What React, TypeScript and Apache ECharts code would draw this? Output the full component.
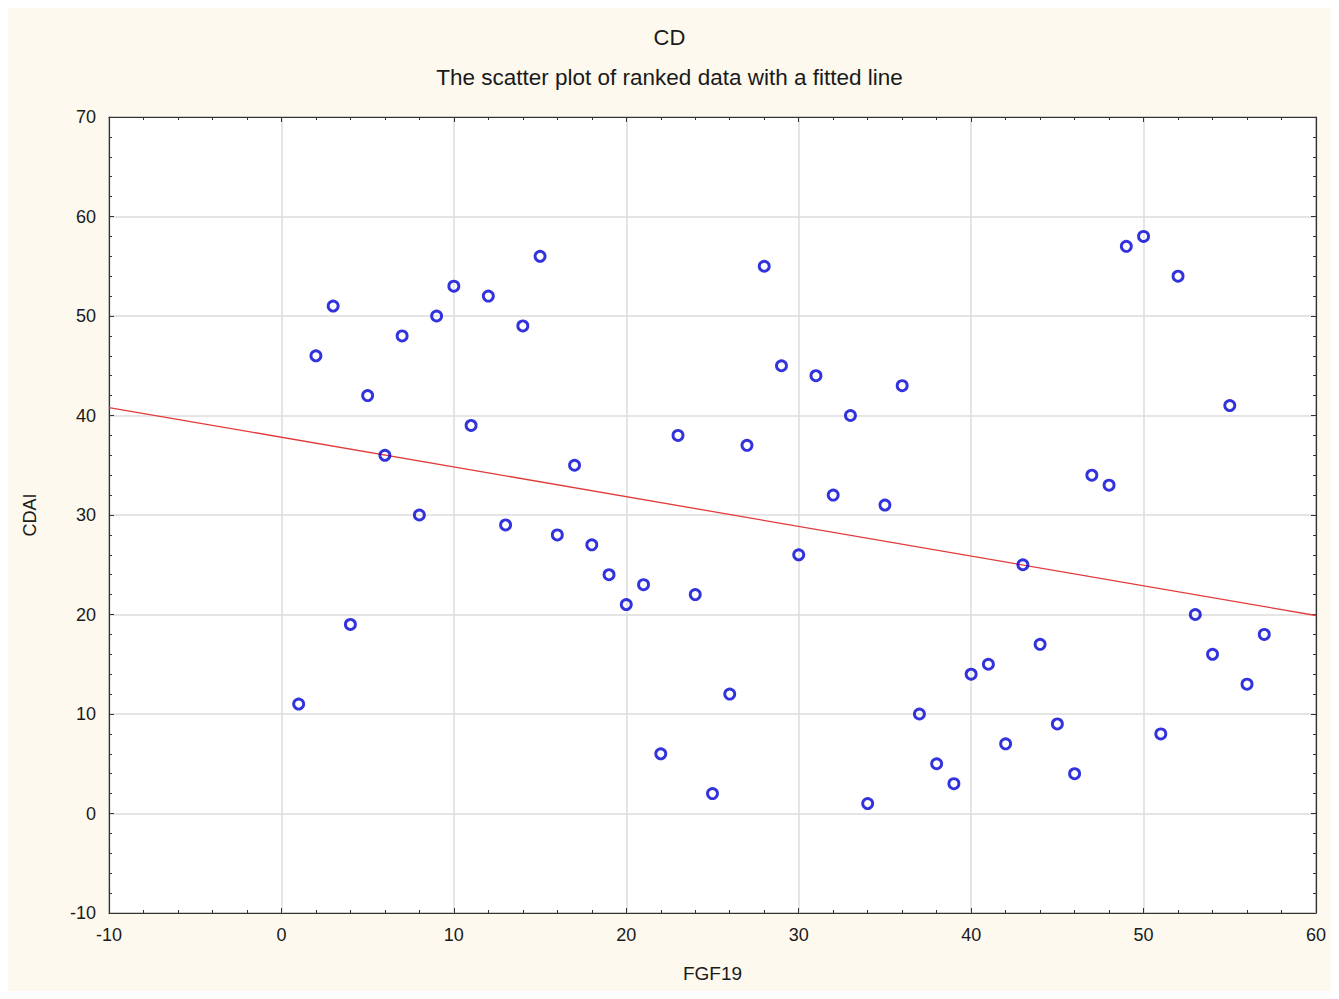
import React, { useEffect, useRef } from "react";
import * as echarts from "echarts";

const xRanks = [1,2,3,4,5,6,7,8,9,10,11,12,13,14,15,16,17,18,19,20,21,22,23,24,25,26,27,28,29,30,31,32,33,34,35,36,37,38,39,40,41,42,43,44,45,46,47,48,49,50,51,52,53,54,55,56,57];
const yRanks = [11,46,51,19,42,36,48,30,50,53,39,52,29,49,56,28,35,27,24,21,23,6,38,22,2,12,37,55,45,26,44,32,40,1,31,43,10,5,3,14,15,7,25,17,9,4,34,33,57,58,8,54,20,16,41,13,18];
const fitLineX = [-10, 60];
const fitLineY = [40.8, 19.9];
const titleText = "CD";
const subtitleText = "The scatter plot of ranked data with a fitted line";
const xName = "FGF19";
const yName = "CDAI";

export default function App() {
  const ref = useRef<HTMLDivElement>(null);
  useEffect(() => {
    if (!ref.current) return;
    const chart = echarts.init(ref.current, null, { renderer: "svg" });
    const font = "Liberation Sans, Arial, sans-serif";
    const tickStyle = { show: true, inside: true, length: 5, lineStyle: { color: "#333", width: 1 } };
    const minorStyle = { show: true, splitNumber: 5, length: 3, lineStyle: { color: "#333", width: 1 } };
    const axisLine = { show: true, onZero: false, lineStyle: { color: "#333", width: 1.2 } };
    chart.setOption({
      animation: false,
      backgroundColor: "#fdf9ee",
      title: [
        { text: titleText, left: "center", top: 13, textStyle: { fontFamily: font, fontSize: 22, fontWeight: "normal", color: "#1a1a1a" } },
        { text: subtitleText, left: "center", top: 53, textStyle: { fontFamily: font, fontSize: 22.5, fontWeight: "normal", color: "#1a1a1a" } },
      ],
      grid: { left: 101, top: 109, right: 15, bottom: 78, show: true, backgroundColor: "#ffffff", borderColor: "#333", borderWidth: 1 },
      xAxis: [
        {
          type: "value", min: -10, max: 60, interval: 10, position: "bottom",
          name: xName, nameLocation: "middle", nameGap: 51,
          nameTextStyle: { fontFamily: font, fontSize: 19, color: "#1a1a1a" },
          axisLine, axisTick: tickStyle, minorTick: minorStyle,
          axisLabel: { fontFamily: font, fontSize: 18, color: "#1a1a1a", margin: 13 },
          splitLine: { show: true, lineStyle: { color: "#dcdcdc", width: 1.5 } },
        },
        {
          type: "value", min: -10, max: 60, interval: 10, position: "top",
          axisLine, axisTick: tickStyle, minorTick: minorStyle,
          axisLabel: { show: false }, splitLine: { show: false },
        },
      ],
      yAxis: [
        {
          type: "value", min: -10, max: 70, interval: 10, position: "left",
          name: yName, nameLocation: "middle", nameGap: 70, nameRotate: 90,
          nameTextStyle: { fontFamily: font, fontSize: 18, color: "#1a1a1a" },
          axisLine, axisTick: tickStyle, minorTick: minorStyle,
          axisLabel: { fontFamily: font, fontSize: 18, color: "#1a1a1a", margin: 13 },
          splitLine: { show: true, lineStyle: { color: "#dcdcdc", width: 1.5 } },
        },
        {
          type: "value", min: -10, max: 70, interval: 10, position: "right",
          axisLine, axisTick: tickStyle, minorTick: minorStyle,
          axisLabel: { show: false }, splitLine: { show: false },
        },
      ],
      series: [
        {
          type: "line",
          data: fitLineX.map((x, i) => [x, fitLineY[i]]),
          showSymbol: false,
          symbol: "none",
          lineStyle: { color: "#e23a3a", width: 1.3 },
          silent: true,
          z: 2,
        },
        {
          type: "scatter",
          data: xRanks.map((x, i) => [x, yRanks[i]]),
          symbol: "circle",
          symbolSize: 10,
          itemStyle: { color: "rgba(255,255,255,0)", borderColor: "#0000d4", borderWidth: 2.9 },
          z: 3,
        },
      ],
    });
    return () => chart.dispose();
  }, []);
  return <div ref={ref} style={{ width: 1323, height: 983 }} />;
}
